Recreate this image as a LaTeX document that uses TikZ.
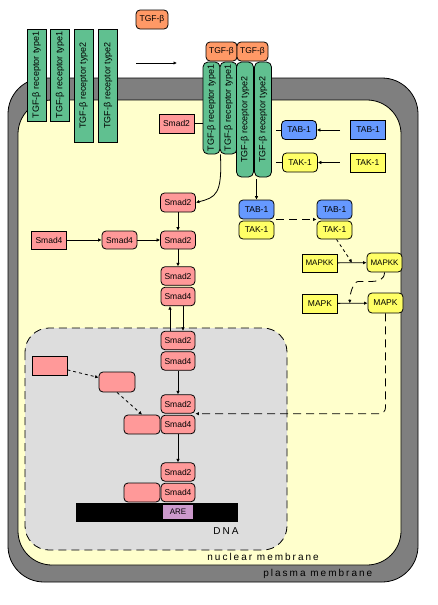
\documentclass[tikz,border=0pt]{standalone}
\usepackage{fontspec}
\setmainfont{Liberation Sans}
\newfontfamily\membfont[LetterSpace=20]{Liberation Sans}
\usetikzlibrary{arrows.meta,calc}

\definecolor{membgray}{HTML}{7F7F7F}
\definecolor{cytoyellow}{HTML}{FFFFCC}
\definecolor{nucgray}{HTML}{DDDDDD}
\definecolor{smadpink}{HTML}{FF9999}
\definecolor{tgforange}{HTML}{FF9966}
\definecolor{recgreen}{HTML}{60C090}
\definecolor{tabblue}{HTML}{6699FF}
\definecolor{takyellow}{HTML}{FFFF66}
\definecolor{areviolet}{HTML}{CC99CC}

\begin{document}
\begin{tikzpicture}[x=1pt,y=-1pt,line width=0.8pt,
  mol/.style={draw,inner sep=0pt,minimum width=35pt,minimum height=19pt,font=\fontsize{8.5}{9}\selectfont},
  act/.style={mol,rounded corners=4pt},
  recep/.style={draw,fill=recgreen,inner sep=0pt,minimum height=19pt,font=\fontsize{9}{10}\selectfont},
  lead/.style={-{Latex[length=3.5pt,width=3.5pt]}},
  hint/.style={lead,dash pattern=on 3pt off 3pt},
  signal/.style={lead,dash pattern=on 8pt off 5pt},
  lab/.style={inner sep=0pt,anchor=west,font=\membfont\fontsize{10}{11}\selectfont}]
\useasboundingbox (0,0) rectangle (437,605);
\draw[fill=membgray,rounded corners=36pt] (8,78) rectangle (418,582);
\draw[fill=cytoyellow,rounded corners=34pt] (18,100) rectangle (401,565);
\draw[fill=nucgray,dash pattern=on 8pt off 5pt,rounded corners=24pt] (25,328) rectangle (287,550);

\node[act,fill=tgforange,minimum width=32pt] (tgf) at (152,19.5) {TGF-β};
\foreach \nm/\x/\len/\typ in {ra/36.5/92/1, rb/60/92/1, rc/83.5/113/2, rd/108/113/2} {
  \node[recep,rotate=90,minimum width=\len pt] (\nm) at (\x,{29+\len/2}) {TGF-β receptor type\typ};
}
\coordinate (bind0) at (136,63);
\coordinate (bind1) at (177,63);
\draw[lead] (bind0) -- (bind1);

\node[act,fill=tgforange,minimum width=31pt] (tgfl) at (221.5,51.5) {TGF-β};
\node[act,fill=tgforange,minimum width=31pt] (tgfr) at (252.5,51.5) {TGF-β};
\foreach \nm/\x/\len/\typ in {ca/211.5/92/1, cb/228.5/92/1, cc/245/115/2, cd/263/115/2} {
  \node[recep,rotate=90,rounded corners=5pt,minimum width=\len pt,minimum height=17pt] (\nm) at (\x,{62+\len/2}) {TGF-β receptor type\typ};
}

\node[mol,fill=smadpink] (smadr) at (176.5,123.5) {Smad2};
\node[act,fill=tabblue] (tab) at (299,130) {TAB-1};
\node[mol,fill=tabblue] (tabr) at (368,130) {TAB-1};
\node[act,fill=takyellow] (tak) at (300,162.5) {TAK-1};
\node[mol,fill=takyellow] (takr) at (367.5,162.5) {TAK-1};

\node[act,fill=tabblue] (taba) at (256.5,209.5) {TAB-1};
\node[act,fill=takyellow,minimum height=18pt] (taka) at (256.5,230) {TAK-1};
\node[act,fill=tabblue] (tabb) at (334.5,209.5) {TAB-1};
\node[act,fill=takyellow,minimum height=18pt] (takb) at (334.5,230) {TAK-1};

\node[mol,fill=takyellow,minimum height=18pt,font=\fontsize{8}{9}\selectfont] (mkkr) at (319.5,263) {MAPKK};
\node[act,fill=takyellow,font=\fontsize{8}{9}\selectfont] (mkk) at (384.5,262.5) {MAPKK};
\node[mol,fill=takyellow] (mkr) at (320,303.5) {MAPK};
\node[act,fill=takyellow,minimum height=20pt] (mk) at (385.5,303) {MAPK};

\node[act,fill=smadpink] (s2a) at (178,202.5) {Smad2};
\node[mol,fill=smadpink,minimum height=18pt] (s4r) at (49,240) {Smad4};
\node[act,fill=smadpink,minimum height=18pt] (s4a) at (119.5,240) {Smad4};
\node[act,fill=smadpink,minimum height=18pt] (s2b) at (178,240) {Smad2};
\foreach \k/\y in {c/276, n/340.5, m/404, d/472} {
  \node[act,fill=smadpink,minimum width=34pt,minimum height=18.5pt] (\k s2) at (178,\y) {Smad2};
  \node[act,fill=smadpink,minimum width=34pt,minimum height=18.5pt] (\k s4) at (178,\y+20.5) {Smad4};
}
\node[mol,fill=smadpink] (blr) at (49.5,365.5) {};
\node[act,fill=smadpink,minimum width=36pt,minimum height=20pt] (bla) at (117,382) {};
\node[act,fill=smadpink,minimum width=36pt] (mx) at (142,424.5) {};
\node[act,fill=smadpink,minimum width=36pt] (dx) at (142,492.5) {};

\node[fill=black,inner sep=0pt,minimum width=162pt,minimum height=19pt] (dna) at (157,512.5) {};
\node[fill=areviolet,inner sep=0pt,minimum width=30pt,minimum height=14pt,font=\fontsize{8}{9}\selectfont] (are) at (178,512) {ARE};

\draw (smadr.east) -- (smadr.east -| ca.north);
\draw[shorten <=4pt] (tab.west -| cd.south) -- (tab.west);
\draw[shorten <=4pt] (tak.west -| cd.south) -- (tak.west);
\draw[lead,shorten <=10pt] (tabr) -- (tab);
\draw[lead,shorten <=10pt] (takr) -- (tak);
\draw[lead] (ca.south west) .. controls +(2,40) and +(20,-5) .. (s2a.east);
\draw[lead,shorten <=2pt] (taba.north |- cd.west) -- (taba.north);
\draw[signal,shorten <=2pt] (taba.south east) -- (tabb.south west);
\coordinate (kkjoin) at ($(mkkr.east)!0.5!(mkk.west)$);
\coordinate (kjoin) at ($(mkr.east)!0.4!(mk.west)$);
\draw[hint] ([xshift=2pt]takb.south) -- (kkjoin);
\draw[lead] (mkkr) -- (mkk);
\draw[lead] (mkr) -- (mk);
\draw[signal] (mkk.south) .. controls +(0,7) and +(6,0) .. ++(-12,9) -- ++(-14,0) .. controls +(-5,0) and +(0,-10) .. (kjoin);
\draw[signal,rounded corners=6pt] (mk.south) |- (ms2.south east);

\draw[lead] (s4r) -- (s4a);
\draw[lead] (s4a) -- (s2b);
\draw[lead] (s2a) -- (s2b);
\draw[lead] (s2b) -- (cs2);
\draw[lead] ([xshift=-8pt]ns2.north) -- ([xshift=-8pt]cs4.south);
\draw[lead] ([xshift=5pt]cs4.south) -- ([xshift=5pt]ns2.north);
\draw[lead] (ns4) -- (ms2);
\draw[lead] (ms4) -- (ds2);
\draw[hint] (blr) -- (bla);
\draw[hint] (bla.south) -- (mx.north);

\node[lab] (dnalab) at (213,531) {DNA};
\node[lab] (nuclab) at (207,557) {nuclear membrane};
\node[lab] (plasmalab) at (263,574) {plasma membrane};
\end{tikzpicture}
\end{document}
